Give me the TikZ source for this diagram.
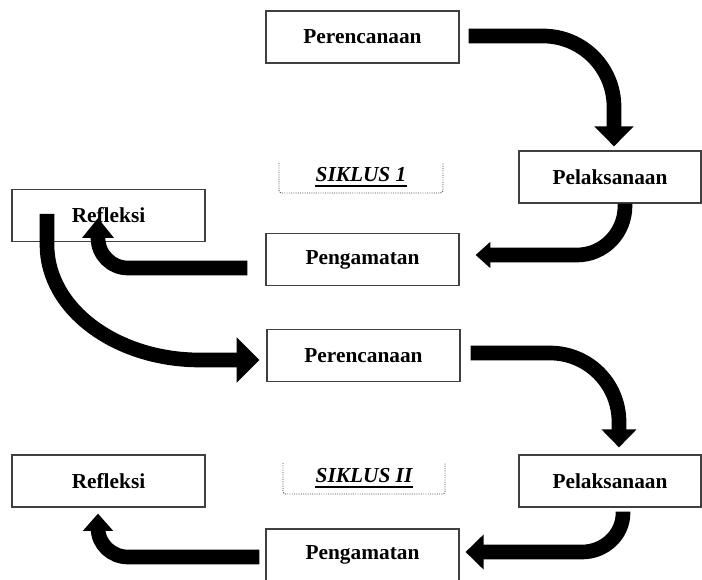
\documentclass[tikz,border=0pt]{standalone}
\usepackage{fontspec}
\setmainfont{Liberation Serif}
\usetikzlibrary{arrows.meta,calc}

\tikzset{
  stage/.style={draw=black!75, line width=0.9pt, inner sep=0pt,
    minimum width=144.75pt, minimum height=39pt,
    font=\fontsize{16}{19}\selectfont\bfseries},
  flow/.style 2 args={line width=11pt, -{Triangle[length=#1, width=#2]}},
  cyclebox/.style={draw=black!75, densely dotted, line width=0.7pt, rounded corners=2pt},
  cyclelabel/.style={inner sep=0pt, font=\fontsize{16}{19}\selectfont\bfseries\itshape},
  underbar/.style={line width=1.4pt},
}

\begin{document}
\begin{tikzpicture}[x=0.75pt, y=0.75pt]
		\useasboundingbox (0,0) rectangle (702,-580);

		% Cycle 1 boxes
		\node[stage] (per1) at (362.5,-37) {Perencanaan};
		\node[stage, minimum width=136.5pt] (pel1) at (610,-177) {Pelaksanaan};
		\node[stage] (pen1) at (362.5,-259.5) {Pengamatan};
		\node[stage] (ref1) at (108.5,-215.5) {Refleksi};

		% Cycle 2 boxes
		\node[stage] (per2) at (363.5,-355.5) {Perencanaan};
		\node[stage, minimum width=136.5pt] (pel2) at (610,-481) {Pelaksanaan};
		\node[stage] (pen2) at (362.5,-555) {Pengamatan};
		\node[stage] (ref2) at (108.5,-481) {Refleksi};

		% Cycle headers
		\draw[cyclebox] (279,-163) -- (279,-193) -- (443,-193) -- (443,-163);
		\node[cyclelabel] (sik1) at (361,-175) {SIKLUS 1};
		\draw[underbar] ($(sik1.base west)+(0,-4)$) -- ($(sik1.base east)+(0,-4)$);
		\draw[cyclebox] (283,-463) -- (283,-494) -- (445,-494) -- (445,-463);
		\node[cyclelabel] (sik2) at (364,-476) {SIKLUS II};
		\draw[underbar] ($(sik2.base west)+(0,-4)$) -- ($(sik2.base east)+(0,-4)$);

		% Arrows -- cycle 1
		\draw[flow={15pt}{28.5pt}] ($(per1.east)+(9,1)$) -- (543,-36)
			to[out=0,in=90] (614,-107) -- ($(pel1.north)+(4,4)$);
		\draw[flow={11pt}{19pt}] ($(pel1.south)+(15,0)$) -- (625,-206)
			to[out=-90,in=0] (577,-255) -- ($(pen1.east)+(16,4.5)$);
		\draw[flow={15pt}{23pt}] ($(pen1.west)+(-18,-8.5)$) -- (128,-268)
			to[out=180,in=-90] (98,-238) -- ($(ref1.center)+(-10.5,-2.5)$);
		\draw[flow={17pt}{33pt}] ($(ref1.center)+(-61.5,1.5)$) -- (47,-245)
			.. controls (47,-308.5) and (115.5,-360) .. (200,-360) -- ($(per2.west)+(-7,-4.5)$);

		% Arrows -- cycle 2
		\draw[flow={13.5pt}{25.5pt}] ($(per2.east)+(10,2.5)$) -- (550,-353)
			to[out=0,in=90] (619,-422) -- ($(pel2.north)+(9,7)$);
		\draw[flow={13.5pt}{25.5pt}] ($(pel2.south)+(13,-4)$) -- (623,-513)
			to[out=-90,in=0] (582,-552) -- ($(pen2.east)+(6,3)$);
		\draw[flow={13pt}{22pt}] ($(pen2.west)+(-6,-2)$) -- (128,-557)
			to[out=180,in=-90] (98,-528) -- ($(ref2.south)+(-10.5,-6)$);
\end{tikzpicture}
\end{document}
